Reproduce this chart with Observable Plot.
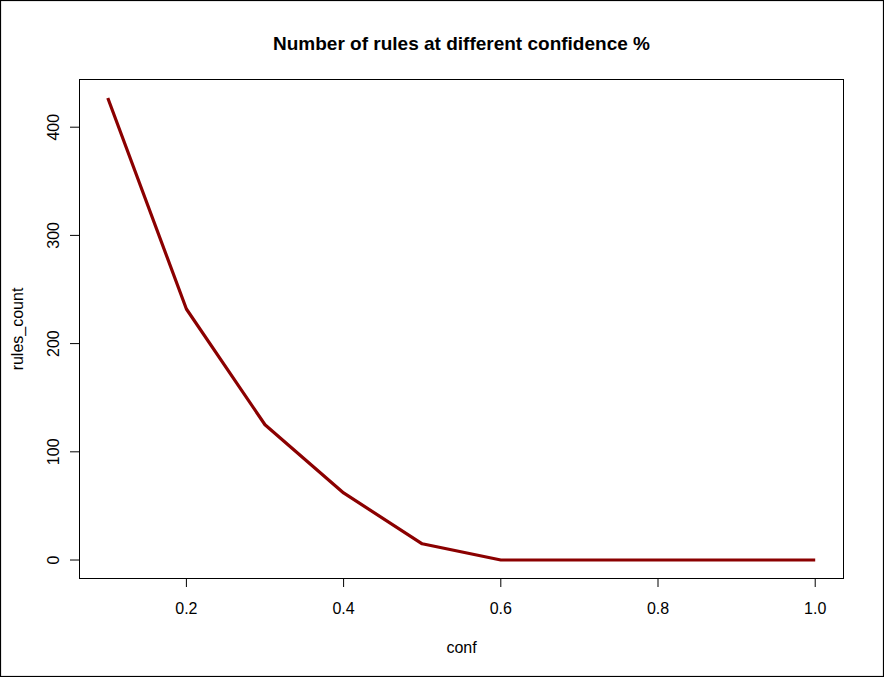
<!DOCTYPE html>
<html>
<head>
<meta charset="utf-8">
<script src="https://cdn.jsdelivr.net/npm/d3@7"></script>
<script src="https://cdn.jsdelivr.net/npm/@observablehq/plot@0.6"></script>
<style>
  html, body { margin: 0; padding: 0; background: #fff; }
</style>
</head>
<body>
<div id="chart"></div>
<script>
const conf = [0.1, 0.2, 0.3, 0.4, 0.5, 0.6, 0.7, 0.8, 0.9, 1.0];
const rulesCount = [427, 232, 125, 62, 15, 0, 0, 0, 0, 0];
const xTicks = [0.2, 0.4, 0.6, 0.8, 1.0];
const yTicks = [0, 100, 200, 300, 400];
const titleText = "Number of rules at different confidence %";
const xLabel = "conf";
const yLabel = "rules_count";

const data = conf.map((c, i) => ({conf: c, rules_count: rulesCount[i]}));

// R-style 4% axis extension
const ext = (lo, hi) => { const e = (hi - lo) * 0.04; return [lo - e, hi + e]; };
const xDom = ext(d3.min(conf), d3.max(conf));
const yDom = ext(d3.min(rulesCount), d3.max(rulesCount));

const font = "'Liberation Sans', Arial, Helvetica, sans-serif";

function outerBorder(index, scales, values, dims, context) {
  const r = context.document.createElementNS("http://www.w3.org/2000/svg", "rect");
  r.setAttribute("x", 0.5);
  r.setAttribute("y", 0.5);
  r.setAttribute("width", dims.width - 1);
  r.setAttribute("height", dims.height - 1);
  r.setAttribute("fill", "none");
  r.setAttribute("stroke", "black");
  r.setAttribute("stroke-width", 1.2);
  return r;
}

const chart = Plot.plot({
  width: 884,
  height: 677,
  marginLeft: 79,
  marginRight: 41,
  marginTop: 79,
  marginBottom: 99,
  style: {fontFamily: font, fontSize: "16px", background: "#fff", color: "black"},
  x: {domain: xDom, axis: null},
  y: {domain: yDom, axis: null},
  marks: [
    outerBorder,
    Plot.frame({stroke: "black", strokeWidth: 1}),
    Plot.axisX({ticks: xTicks, tickSize: 9, tickFormat: () => "", label: null, stroke: "black", strokeOpacity: 1}),
    Plot.axisY({ticks: yTicks, tickSize: 9, tickFormat: () => "", label: null, stroke: "black", strokeOpacity: 1}),
    Plot.text(xTicks, {x: d => d, text: d3.format(".1f"), frameAnchor: "bottom", dy: 35,
      lineAnchor: "bottom", textAnchor: "middle", fontSize: 16, fill: "black"}),
    Plot.text(yTicks, {y: d => d, text: d => String(d), frameAnchor: "left", dx: -20.5,
      rotate: -90, lineAnchor: "bottom", textAnchor: "middle", fontSize: 16, fill: "black"}),
    Plot.line(data, {x: "conf", y: "rules_count", stroke: "#8B0000", strokeWidth: 3.2,
      strokeLinejoin: "round", strokeLinecap: "butt"}),
    Plot.text([titleText], {frameAnchor: "top", dy: -30, lineAnchor: "bottom",
      textAnchor: "middle", fontSize: 19, fontWeight: "bold", fill: "black"}),
    Plot.text([xLabel], {frameAnchor: "bottom", dy: 74, lineAnchor: "bottom",
      textAnchor: "middle", fontSize: 16, fill: "black"}),
    Plot.text([yLabel], {frameAnchor: "left", dx: -57, rotate: -90, lineAnchor: "bottom",
      textAnchor: "middle", fontSize: 16, fill: "black"})
  ]
});

document.getElementById("chart").appendChild(chart);
</script>
</body>
</html>
